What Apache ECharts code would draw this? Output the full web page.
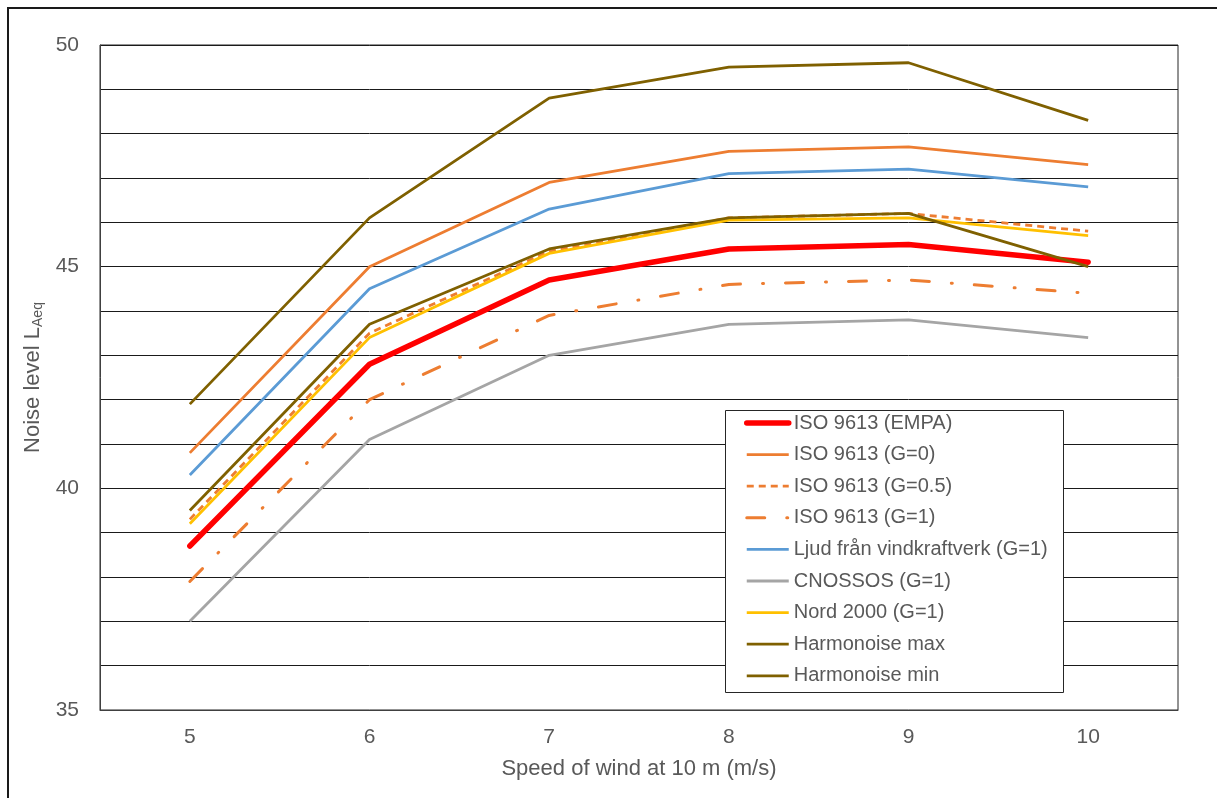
<!DOCTYPE html>
<html>
<head>
<meta charset="utf-8">
<script src="https://cdn.jsdelivr.net/npm/echarts@6/dist/echarts.min.js"></script>
<style>
  html, body { margin: 0; padding: 0; background: #fff; }
  #chart { width: 1217px; height: 798px; }
</style>
</head>
<body>
<div id="chart"></div>
<script>
// wind speed categories (m/s)
const speeds = ['5', '6', '7', '8', '9', '10']

// noise level per model
const isoEmpa = [38.7, 42.8, 44.7, 45.4, 45.5, 45.1]
const isoG0 = [40.8, 45.0, 46.9, 47.6, 47.7, 47.3]
const isoG05 = [39.3, 43.5, 45.35, 46.1, 46.2, 45.8]
const isoG1 = [37.9, 42.0, 43.9, 44.6, 44.7, 44.4]
const ljud = [40.3, 44.5, 46.3, 47.1, 47.2, 46.8]
const cnossos = [37.0, 41.1, 43.0, 43.7, 43.8, 43.4]
const nord2000 = [39.2, 43.4, 45.3, 46.05, 46.1, 45.7]
const harmMax = [41.9, 46.1, 48.8, 49.5, 49.6, 48.3]
const harmMin = [39.5, 43.7, 45.4, 46.1, 46.2, 45.0]

const yTicks = [35, 40, 45, 50]

const txt = '#595959'
const font = 'Liberation Sans, Arial, sans-serif'

function line(name, data, color, width, type, cap) {
  return {
    name: name,
    type: 'line',
    data: data,
    symbol: 'none',
    lineStyle: { color: color, width: width, type: type || 'solid', cap: cap || 'butt' },
    itemStyle: { color: color }
  }
}

const chart = echarts.init(document.getElementById('chart'))
const option = {
  backgroundColor: '#fff',
  animation: false,
  textStyle: { fontFamily: font },
  graphic: [
    {
      type: 'rect',
      shape: { x: 8, y: 8, width: 1240, height: 830 },
      style: { fill: 'none', stroke: '#1a1a1a', lineWidth: 2 },
      silent: true
    },
    {
      type: 'rect',
      shape: { x: 725.5, y: 410.5, width: 338, height: 282 },
      style: { fill: '#fff', stroke: '#262626', lineWidth: 1 },
      z: 90,
      silent: true
    }
  ],
  grid: {
    left: 100, right: 39, top: 45, bottom: 88,
    show: true, borderColor: '#262626', borderWidth: 1
  },
  legend: {
    orient: 'vertical',
    left: 744,
    top: 413,
    padding: 0,
    itemWidth: 42,
    itemHeight: 20,
    itemGap: 11.6,
    z: 100,
    itemStyle: { opacity: 0 },
    lineStyle: { width: 'inherit' },
    textStyle: { color: txt, fontSize: 20, lineHeight: 20, fontFamily: font }
  },
  xAxis: {
    type: 'category',
    data: speeds,
    boundaryGap: true,
    name: 'Speed of wind at 10 m (m/s)',
    nameLocation: 'middle',
    nameGap: 48,
    nameTextStyle: { color: txt, fontSize: 22, fontFamily: font },
    axisLine: { lineStyle: { color: '#404040', width: 1 } },
    axisTick: { show: false },
    axisLabel: { color: txt, fontSize: 21, margin: 17, fontFamily: font }
  },
  yAxis: {
    type: 'value',
    min: 35,
    max: 50,
    interval: 1,
    name: 'Noise level L{sub|Aeq}',
    nameLocation: 'middle',
    nameGap: 45,
    nameTextStyle: {
      color: txt, fontSize: 22, fontFamily: font,
      rich: {
        sub: { fontSize: 14, color: txt, fontFamily: font, verticalAlign: 'bottom', padding: [10, 0, 0, 0] }
      }
    },
    axisLine: { show: true, lineStyle: { color: '#404040', width: 1 } },
    axisTick: { show: false },
    axisLabel: {
      color: txt, fontSize: 21, margin: 21, fontFamily: font,
      formatter: function (v) { return yTicks.indexOf(v) >= 0 ? String(v) : '' }
    },
    splitLine: { lineStyle: { color: '#1a1a1a', width: 1 } }
  },
  series: [
    line('ISO 9613 (EMPA)', isoEmpa, '#FF0000', 5.5, 'solid', 'round'),
    line('ISO 9613 (G=0)', isoG0, '#ED7D31', 2.8),
    line('ISO 9613 (G=0.5)', isoG05, '#ED7D31', 2.8, [7, 5]),
    line('ISO 9613 (G=1)', isoG1, '#ED7D31', 3, [18, 22, 1, 22], 'round'),
    line('Ljud från vindkraftverk (G=1)', ljud, '#5B9BD5', 2.8),
    line('CNOSSOS (G=1)', cnossos, '#A5A5A5', 2.8),
    line('Nord 2000 (G=1)', nord2000, '#FFC000', 2.8),
    line('Harmonoise max', harmMax, '#7F6000', 2.8),
    line('Harmonoise min', harmMin, '#7F6000', 2.8)
  ]
}
chart.setOption(option)
</script>
</body>
</html>
